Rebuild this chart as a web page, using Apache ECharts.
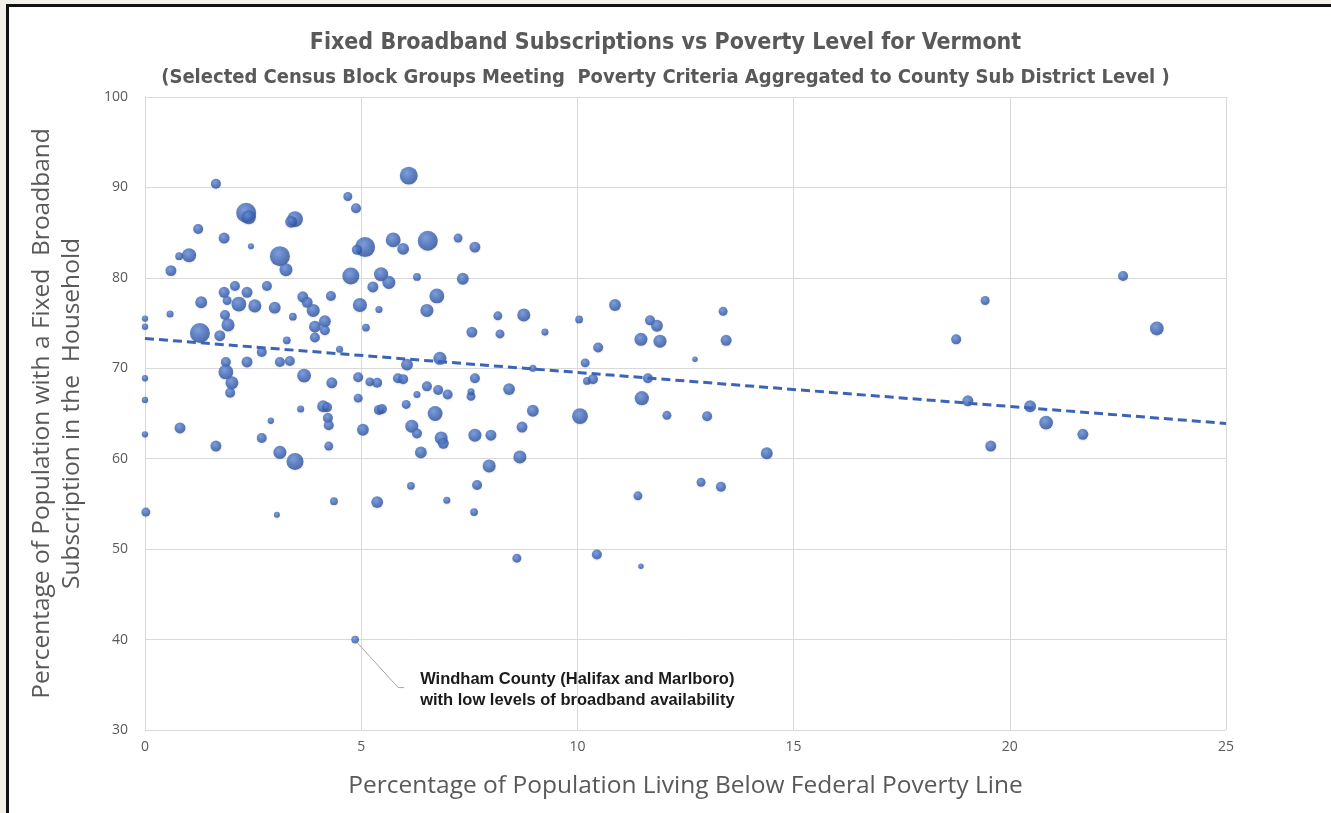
<!DOCTYPE html>
<html>
<head>
<meta charset="utf-8">
<script src="https://cdn.jsdelivr.net/npm/echarts@6/dist/echarts.min.js"></script>
<style>
  html, body { margin: 0; padding: 0; background: #f3f0e9; overflow: hidden; }
  #frame { position: absolute; left: 6px; top: 4px; width: 1400px; height: 900px; background: #ffffff;
           border-left: 3px solid #111; border-top: 3px solid #111; }
  #chart { position: absolute; left: 0; top: 0; width: 1331px; height: 813px; }
</style>
</head>
<body>
<div id="frame"></div>
<div id="chart"></div>
<script>
// Poverty % (x), broadband subscription % (y), relative population (bubble weight)
const povertyPct = [
  0, 0, 0, 0, 0, 0.02,
  1.64, 2.34, 2.4, 3.47, 3.38, 1.23, 1.83, 2.45, 4.69, 4.88, 5.09, 4.9, 1.02, 0.79,
  3.12, 3.26, 0.6, 4.76, 5.46, 1.3, 1.83, 2.08, 1.9, 2.36, 2.17, 2.54, 2.82, 3.0,
  3.65, 3.75, 3.89, 4.3, 3.42, 3.93, 4.16, 4.16, 4.97, 5.27, 5.11, 1.85, 1.92, 0.58,
  1.27, 1.73, 3.28, 3.93,
  2.7, 4.5, 1.87, 1.87, 2.01, 1.97, 2.36, 3.12, 3.35, 3.68, 4.32, 4.93, 5.2, 5.37,
  4.93, 4.12, 4.21, 3.6, 5.41, 4.23, 4.25, 2.91, 0.81, 2.7, 1.64, 4.25, 5.04, 3.12,
  3.47, 4.37, 5.37, 3.05,
  6.1, 5.74, 5.97, 6.54, 7.24, 7.63, 5.64, 6.29, 7.35, 6.75, 6.52, 5.41, 8.16, 8.76,
  10.04, 10.87, 7.56, 8.21, 9.25,
  6.06, 6.82, 8.97, 10.48, 10.18, 10.22, 10.36, 5.85, 5.97, 6.29, 6.52, 6.78, 7.0,
  7.54, 7.54, 7.63, 8.42, 5.48, 6.04, 6.71, 8.97, 10.06, 6.17, 6.29, 6.85, 6.9, 6.38,
  7.63, 8.0, 8.72, 8.67, 7.96, 6.15, 7.68, 6.98, 7.61, 8.6, 10.45,
  11.68, 11.84, 11.47, 11.91, 13.37, 13.44, 12.72, 11.63, 11.49, 12.07, 13.0, 14.38,
  12.86, 13.32, 11.4, 11.47,
  22.62, 19.43, 18.76, 23.4, 19.03, 20.47, 20.84, 21.69, 19.56
];
const broadbandPct = [
  75.5, 74.6, 68.9, 66.5, 62.7, 54.1,
  90.4, 87.2, 86.7, 86.5, 86.2, 85.4, 84.4, 83.5, 89.0, 87.7, 83.4, 83.1, 82.5, 82.4,
  82.4, 80.9, 80.8, 80.2, 80.4, 77.3, 78.4, 79.1, 77.5, 78.4, 77.1, 76.9, 79.1, 76.7,
  77.9, 77.3, 76.4, 78.0, 75.7, 74.6, 75.2, 74.2, 77.0, 79.0, 74.5, 75.9, 74.8, 76.0,
  73.9, 73.6, 73.1, 73.4,
  71.8, 72.1, 70.7, 69.6, 68.4, 67.3, 70.7, 70.7, 70.8, 69.2, 68.4, 69.0, 68.5, 68.4,
  66.7, 65.8, 65.7, 65.5, 65.4, 64.5, 63.7, 64.2, 63.4, 62.3, 61.4, 61.4, 63.2, 60.7,
  59.7, 55.3, 55.2, 53.8,
  91.3, 84.2, 83.2, 84.1, 84.4, 83.4, 79.5, 80.1, 79.9, 78.0, 76.4, 76.5, 75.8, 75.9,
  75.4, 77.0, 74.0, 73.8, 74.0,
  70.4, 71.1, 70.0, 72.3, 70.6, 68.6, 68.8, 68.9, 68.8, 67.1, 68.0, 67.6, 67.1,
  66.9, 67.4, 68.9, 67.7, 65.5, 66.0, 65.0, 65.3, 64.7, 63.6, 62.8, 62.3, 61.7, 60.7,
  62.6, 62.6, 63.5, 60.2, 59.2, 57.0, 57.1, 55.4, 54.1, 49.0, 49.4,
  75.3, 74.7, 73.2, 73.0, 76.3, 73.1, 71.0, 68.9, 66.7, 64.8, 64.7, 60.6,
  57.4, 56.9, 55.9, 48.1,
  80.2, 77.5, 73.2, 74.4, 66.4, 65.8, 64.0, 62.7, 61.4
];
const population = [
  4, 4, 4, 4, 4, 8,
  10, 40, 20, 25, 14, 10, 12, 3.6, 8, 10, 40, 10, 20, 6,
  40, 17, 12, 29, 20, 14, 12, 10, 8, 12, 22, 17, 10, 14,
  12, 12, 17, 10, 6, 14, 14, 10, 20, 12, 6, 10, 17, 5,
  40, 12, 6, 10,
  10, 5, 10, 22, 17, 10, 12, 10, 10, 19, 12, 10, 8, 10,
  8, 14, 10, 5, 10, 10, 10, 4, 12, 10, 12, 8, 14, 17,
  29, 6, 14, 3.6,
  32, 22, 14, 40, 8, 12, 17, 6, 14, 22, 17, 5, 8, 17,
  6, 14, 12, 8, 5,
  14, 17, 5, 10, 8, 6, 10, 10, 10, 5, 10, 10, 10,
  8, 5, 10, 14, 10, 8, 22, 14, 25, 17, 10, 17, 12, 14,
  17, 12, 12, 17, 17, 6, 10, 5, 6, 8, 10,
  10, 14, 17, 17, 8, 12, 3, 10, 20, 8, 10, 14,
  8, 10, 8, 3,
  10, 8, 10, 19, 12, 14, 19, 12, 12
];
// Highlighted outlier (Windham County)
const windhamPoint = [4.86, 40.0, 6];
const windhamText = ['Windham County (Halifax and Marlboro)', 'with low levels of broadband availability'];
// Linear trendline endpoints
const trendX = [0, 25];
const trendY = [73.3, 63.9];
const xTicks = [0, 5, 10, 15, 20, 25];
const yTicks = [30, 40, 50, 60, 70, 80, 90, 100];

const bubbleData = povertyPct.map((x, i) => [x, broadbandPct[i], population[i]]);
const trendData = trendX.map((x, i) => [x, trendY[i]]);

const ballColor = {
  type: 'radial', x: 0.4, y: 0.35, r: 0.7,
  colorStops: [
    { offset: 0, color: '#638cd6' },
    { offset: 0.55, color: '#3b64b7' },
    { offset: 1, color: '#284a8e' }
  ]
};
const sizeFn = v => Math.sqrt(v[2] * 10);
const grey = '#595959';
const titleFont = '"DejaVu Sans Condensed", "Open Sans", sans-serif';

const chart = echarts.init(document.getElementById('chart'), null, { renderer: 'canvas' });
chart.setOption({
  backgroundColor: 'transparent',
  animation: false,
  title: [
    { text: 'Fixed Broadband Subscriptions vs Poverty Level for Vermont', left: 'center', top: 27,
      textStyle: { fontFamily: titleFont, fontWeight: 'bold', fontSize: 23, color: grey } },
    { text: '(Selected Census Block Groups Meeting  Poverty Criteria Aggregated to County Sub District Level )', left: 'center', top: 63,
      textStyle: { fontFamily: titleFont, fontWeight: 'bold', fontSize: 20, color: grey } }
  ],
  grid: { left: 145, right: 105, top: 97, bottom: 83, containLabel: false },
  xAxis: {
    type: 'value', min: xTicks[0], max: xTicks[xTicks.length - 1], interval: 5,
    name: 'Percentage of Population Living Below Federal Poverty Line',
    nameLocation: 'middle', nameGap: 44,
    nameTextStyle: { fontFamily: '"Open Sans", sans-serif', fontSize: 24.5, color: grey },
    axisLine: { show: false }, axisTick: { show: false },
    axisLabel: { fontFamily: '"Open Sans", sans-serif', fontSize: 14, color: grey, margin: 10 },
    splitLine: { show: true, lineStyle: { color: '#d9d9d9', width: 1 } }
  },
  yAxis: {
    type: 'value', min: yTicks[0], max: yTicks[yTicks.length - 1], interval: 10,
    name: 'Percentage of Population with a Fixed  Broadband\nSubscription in the  Household',
    nameLocation: 'middle', nameGap: 58, nameRotate: 90,
    nameTextStyle: { fontFamily: '"Open Sans", sans-serif', fontSize: 24.5, color: grey, lineHeight: 30 },
    axisLine: { show: true, lineStyle: { color: '#d9d9d9' } }, axisTick: { show: false },
    axisLabel: { fontFamily: '"Open Sans", sans-serif', fontSize: 14, color: grey, margin: 17 },
    splitLine: { show: true, lineStyle: { color: '#d9d9d9', width: 1 } }
  },
  series: [
    {
      type: 'scatter', data: bubbleData, symbolSize: sizeFn,
      itemStyle: { color: ballColor, shadowColor: 'rgba(0,0,0,0.12)', shadowBlur: 2, shadowOffsetY: 1 },
      z: 3
    },
    {
      type: 'scatter', data: [windhamPoint], symbolSize: sizeFn,
      itemStyle: { color: ballColor }, z: 3
    },
    {
      type: 'line', data: trendData, symbol: 'none', z: 4,
      lineStyle: { color: '#3b64b7', width: 3, type: [9, 5] }
    }
  ]
});

const p = chart.convertToPixel({ gridIndex: 0 }, windhamPoint.slice(0, 2));
chart.setOption({
  graphic: [
    { type: 'polyline', shape: { points: [[p[0] + 2, p[1] + 3], [p[0] + 43, p[1] + 48], [p[0] + 49, p[1] + 48]] },
      style: { stroke: '#a6a6a6', lineWidth: 1, fill: null }, z: 10 },
    { type: 'text', x: p[0] + 65, y: p[1] + 50,
      style: { text: windhamText.join('\n'), fontFamily: '"Liberation Sans", Arial, sans-serif', fontWeight: 'bold',
               fontSize: 16.5, lineHeight: 21, fill: '#1a1a1a', textVerticalAlign: 'middle' }, z: 10 }
  ]
});
</script>
</body>
</html>
